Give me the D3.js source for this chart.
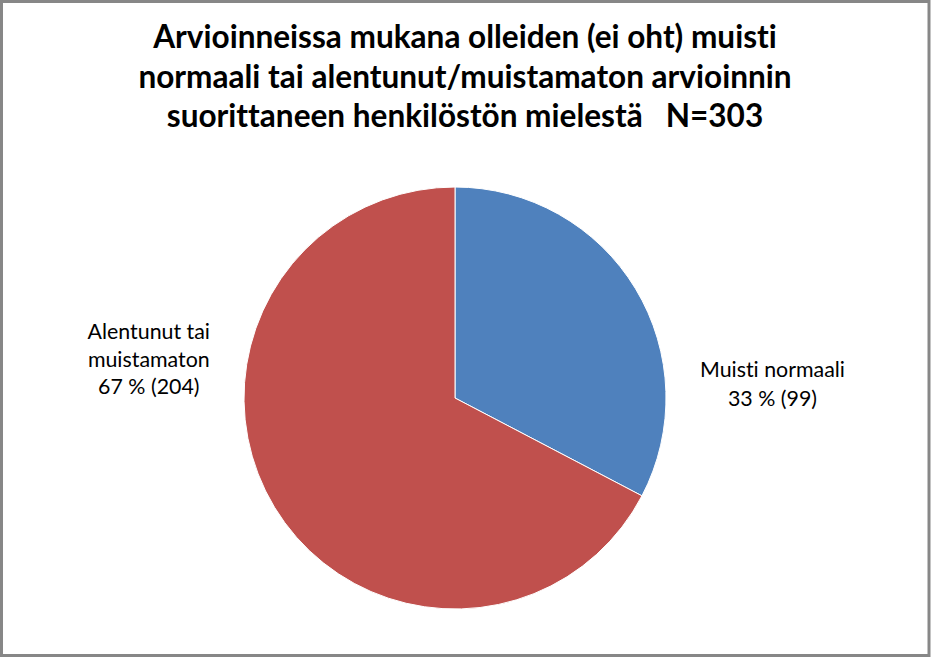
<!DOCTYPE html>
<html>
<head>
<meta charset="utf-8">
<script src="https://cdn.jsdelivr.net/npm/d3@7"></script>
<style>
  body { margin: 0; background: #fff; }
  text { white-space: pre; font-variant-ligatures: none; font-feature-settings: "liga" 0; }
</style>
</head>
<body>
<svg id="chart" width="931" height="658"></svg>
<script>
// data
const categories = ["Muisti normaali", "Alentunut tai muistamaton"];
const counts = [99, 204];
const percents = [33, 67];
const labelLines = [
  ["Muisti normaali", "33 % (99)"],
  ["Alentunut tai", "muistamaton", "67 % (204)"]
];
const titleLines = [
  "Arvioinneissa mukana olleiden (ei oht) muisti",
  "normaali tai alentunut/muistamaton arvioinnin",
  "suorittaneen henkilöstön mielestä   N=303"
];
const colors = ["#4F81BD", "#C0504D"];

const W = 931, H = 658;
const cx = 455, cy = 398, r = 211;
const svg = d3.select("#chart");

svg.append("rect")
  .attr("x", 1.5).attr("y", 1.5)
  .attr("width", W - 3.5).attr("height", H - 4)
  .attr("fill", "#fff")
  .attr("stroke", "#878787")
  .attr("stroke-width", 3);

// size a font so that a line of text gets a given width
function fitSize(txt, weight, target) {
  const t = svg.append("text")
    .attr("font-family", "Lato, 'Open Sans', sans-serif")
    .attr("font-weight", weight)
    .attr("font-size", 100)
    .text(txt);
  const w = t.node().getComputedTextLength();
  t.remove();
  return 100 * target / w;
}

// title
const titleSize = fitSize(titleLines[0], "bold", 624);
const titleBase = [48, 88, 127];
svg.append("g").selectAll("text")
  .data(titleLines)
  .enter().append("text")
  .attr("x", 465)
  .attr("y", (d, i) => titleBase[i])
  .attr("text-anchor", "middle")
  .attr("font-family", "Lato, 'Open Sans', sans-serif")
  .attr("font-weight", "bold")
  .attr("font-size", titleSize)
  .attr("fill", "#000")
  .text(d => d);

// pie
const pie = d3.pie().sort(null).value(d => d.count);
const arc = d3.arc().innerRadius(0).outerRadius(r);
const data = categories.map((c, i) => ({ name: c, count: counts[i], pct: percents[i], lines: labelLines[i] }));
const arcs = pie(data);

const g = svg.append("g").attr("transform", `translate(${cx},${cy})`);
g.selectAll("path")
  .data(arcs)
  .enter().append("path")
  .attr("d", arc)
  .attr("fill", (d, i) => colors[i])
  .attr("stroke", "#fff")
  .attr("stroke-width", 1);

// labels: outside the pie, on the side of the slice centroid
const labelSize = fitSize("Muisti normaali", "normal", 145);
const gap = 34;
const firstBase = [-21, -59];
const lineStep = [29, 27.5];
arcs.forEach((a, i) => {
  const side = arc.centroid(a)[0] >= 0 ? 1 : -1;
  const lg = g.append("g");
  const texts = lg.selectAll("text")
    .data(a.data.lines)
    .enter().append("text")
    .attr("y", (d, j) => firstBase[i] + j * lineStep[i])
    .attr("text-anchor", "middle")
    .attr("font-family", "Lato, 'Open Sans', sans-serif")
    .attr("font-size", labelSize)
    .attr("fill", "#000")
    .text(d => d);
  let bw = 0;
  texts.each(function () { bw = Math.max(bw, this.getComputedTextLength()); });
  texts.attr("x", side * (r + gap + bw / 2));
});
</script>
</body>
</html>
